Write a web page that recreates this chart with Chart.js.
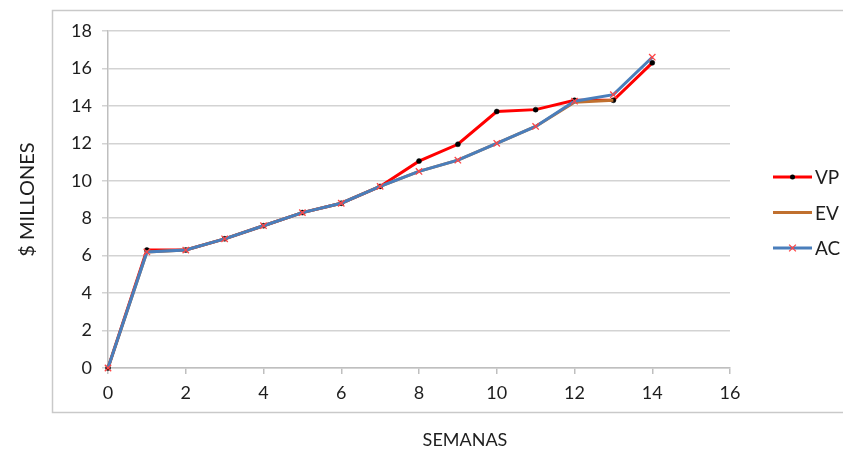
<!DOCTYPE html>
<html>
<head>
<meta charset="utf-8">
<script src="https://cdn.jsdelivr.net/npm/chart.js@4"></script>
<style>
  html, body { margin: 0; padding: 0; background: #ffffff; }
  #wrap { width: 843px; height: 450px; }
</style>
</head>
<body>
<div id="wrap"><canvas id="c" width="843" height="450"></canvas></div>
<script>
const weeks = [0, 1, 2, 3, 4, 5, 6, 7, 8, 9, 10, 11, 12, 13, 14];
const vpValues = [0, 6.3, 6.3, 6.9, 7.6, 8.3, 8.8, 9.7, 11.05, 11.95, 13.7, 13.8, 14.3, 14.3, 16.3];
const evValues = [0, 6.2, 6.3, 6.9, 7.6, 8.3, 8.8, 9.7, 10.5, 11.1, 12.0, 12.9, 14.2, 14.3];
const acValues = [0, 6.2, 6.3, 6.9, 7.6, 8.3, 8.8, 9.7, 10.5, 11.1, 12.0, 12.9, 14.25, 14.6, 16.6];
const seriesLabels = ['VP', 'EV', 'AC'];
const xTitle = 'SEMANAS';
const yTitle = '$ MILLONES';

const FONT = "Lato, 'Open Sans', sans-serif";
const TEXT = '#1e1e1e';

function pts(vals) { return vals.map((v, i) => ({ x: weeks[i], y: v })); }

const borderBox = {
  id: 'borderBox',
  beforeDraw(chart) {
    const ctx = chart.ctx;
    ctx.save();
    ctx.fillStyle = '#ffffff';
    ctx.fillRect(0, 0, chart.width, chart.height);
    ctx.strokeStyle = '#c9c9c9';
    ctx.lineWidth = 1.5;
    ctx.strokeRect(52.5, 10.5, 900, 402);
    ctx.restore();
  }
};

const extras = {
  id: 'extras',
  afterDraw(chart) {
    const ctx = chart.ctx;
    ctx.save();
    // x axis title
    ctx.fillStyle = TEXT;
    ctx.font = '18px ' + FONT;
    ctx.textAlign = 'center';
    ctx.textBaseline = 'middle';
    ctx.fillText(xTitle, 465, 440);
    // legend
    const x0 = 773, x1 = 812;
    chart.data.datasets.forEach((ds, i) => {
      const y = 177 + i * 35.5;
      ctx.strokeStyle = ds.borderColor;
      ctx.lineWidth = 3;
      ctx.beginPath();
      ctx.moveTo(x0, y);
      ctx.lineTo(x1, y);
      ctx.stroke();
      const cx = (x0 + x1) / 2;
      if (ds.pointRadius > 0) {
        if (ds.pointStyle === 'circle') {
          ctx.fillStyle = ds.pointBackgroundColor;
          ctx.beginPath();
          ctx.arc(cx, y, ds.pointRadius, 0, Math.PI * 2);
          ctx.fill();
        } else {
          const r = ds.pointRadius * 0.75;
          ctx.strokeStyle = ds.pointBorderColor;
          ctx.lineWidth = ds.pointBorderWidth;
          ctx.beginPath();
          ctx.moveTo(cx - r, y - r); ctx.lineTo(cx + r, y + r);
          ctx.moveTo(cx + r, y - r); ctx.lineTo(cx - r, y + r);
          ctx.stroke();
        }
      }
      ctx.fillStyle = TEXT;
      ctx.font = '19px ' + FONT;
      ctx.textAlign = 'left';
      ctx.textBaseline = 'middle';
      ctx.fillText(ds.label, 815, y + 1);
    });
    ctx.restore();
  }
};

new Chart(document.getElementById('c'), {
  type: 'line',
  data: {
    datasets: [
      {
        label: seriesLabels[0], data: pts(vpValues), order: 3,
        borderColor: '#ff0000', borderWidth: 3,
        pointStyle: 'circle', pointRadius: 2.5,
        pointBackgroundColor: '#000000', pointBorderColor: '#000000', pointBorderWidth: 0.5,
        tension: 0, clip: false
      },
      {
        label: seriesLabels[1], data: pts(evValues), order: 2,
        borderColor: '#c0702f', borderWidth: 3,
        pointRadius: 0, tension: 0, clip: false
      },
      {
        label: seriesLabels[2], data: pts(acValues), order: 1,
        borderColor: '#4a7ebb', borderWidth: 3,
        pointStyle: 'crossRot', pointRadius: 4.5,
        pointBackgroundColor: '#ff4545', pointBorderColor: '#ff4545', pointBorderWidth: 1.3,
        tension: 0, clip: false
      }
    ]
  },
  options: {
    responsive: false,
    animation: false,
    layout: { padding: { left: 0, right: 113, top: 31, bottom: 0 } },
    plugins: { legend: { display: false }, tooltip: { enabled: false } },
    scales: {
      x: {
        type: 'linear', min: 0, max: 16,
        ticks: { stepSize: 2, color: TEXT, font: { family: FONT, size: 18 }, padding: 8, maxRotation: 0 },
        grid: { drawOnChartArea: false, drawTicks: true, tickLength: 6, color: '#bfbfbf', lineWidth: 1.5 },
        border: { color: '#bfbfbf', width: 1.5 },
        afterFit(scale) { scale.height = 82; }
      },
      y: {
        type: 'linear', min: 0, max: 18,
        ticks: { stepSize: 2, color: TEXT, font: { family: FONT, size: 18 }, padding: 10 },
        grid: { color: '#d3d3d3', lineWidth: 1.5, drawTicks: true, tickLength: 6 },
        border: { color: '#bfbfbf', width: 1.5 },
        title: { display: true, text: yTitle, color: TEXT, font: { family: FONT, size: 20 }, padding: { top: 16, bottom: 0 } },
        afterFit(scale) { scale.width = 108; }
      }
    }
  },
  plugins: [borderBox, extras]
});
</script>
</body>
</html>
